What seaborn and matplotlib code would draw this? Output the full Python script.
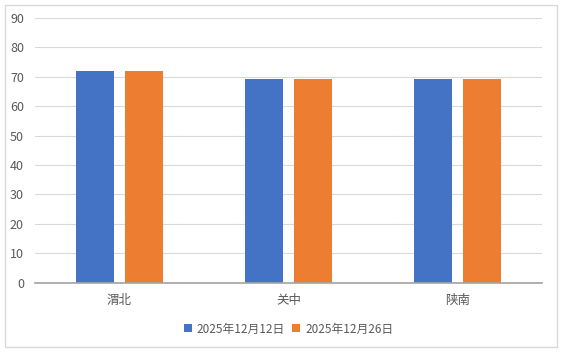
import pandas as pd
import seaborn as sns
from matplotlib import pyplot as plt
from matplotlib.patches import Rectangle

regions = ['渭北', '关中', '陕南']
series_names = ['2025年12月12日', '2025年12月26日']
values_1212 = [72.1, 69.4, 69.1]
values_1226 = [71.8, 69.4, 69.4]
colors = ['#4472C4', '#ED7D31']

df = pd.DataFrame({
    'region': regions * 2,
    'date': [series_names[0]] * 3 + [series_names[1]] * 3,
    'value': values_1212 + values_1226,
})

sns.set_theme(style='white')
plt.rcParams['font.family'] = ['Noto Sans CJK SC', 'DejaVu Sans']

fig = plt.figure(figsize=(5.62, 3.52), dpi=100)
ax = fig.add_axes([0.0623, 0.197, 0.902, 0.752])

sns.barplot(data=df, x='region', y='value', hue='date', palette=colors,
            width=0.576, gap=0.224, ax=ax, legend=True, saturation=1,
            linewidth=0)

ax.set_ylim(0, 90)
ax.set_yticks(range(0, 91, 10))
ax.yaxis.grid(True, color='#D9D9D9', linewidth=0.8)
ax.set_axisbelow(True)
for side in ['top', 'right', 'left']:
    ax.spines[side].set_visible(False)
ax.spines['bottom'].set_color('#A6A6A6')
ax.set_xlabel('')
ax.set_ylabel('')
ax.tick_params(axis='both', length=0, colors='#595959', labelsize=9)
ax.tick_params(axis='y', pad=8)
ax.tick_params(axis='x', pad=8)

ax.legend(loc='center', bbox_to_anchor=(0.5, -0.175), ncol=2, frameon=False,
          fontsize=8.5, handlelength=0.7, handleheight=0.7, handletextpad=0.4,
          columnspacing=0.6, labelcolor='#595959')

fig.patches.append(Rectangle((5 / 562, 5 / 352), 552 / 562, 342 / 352,
                             transform=fig.transFigure, fill=False,
                             edgecolor='#D9D9D9', linewidth=1))

fig.savefig('out.png', dpi=100)
